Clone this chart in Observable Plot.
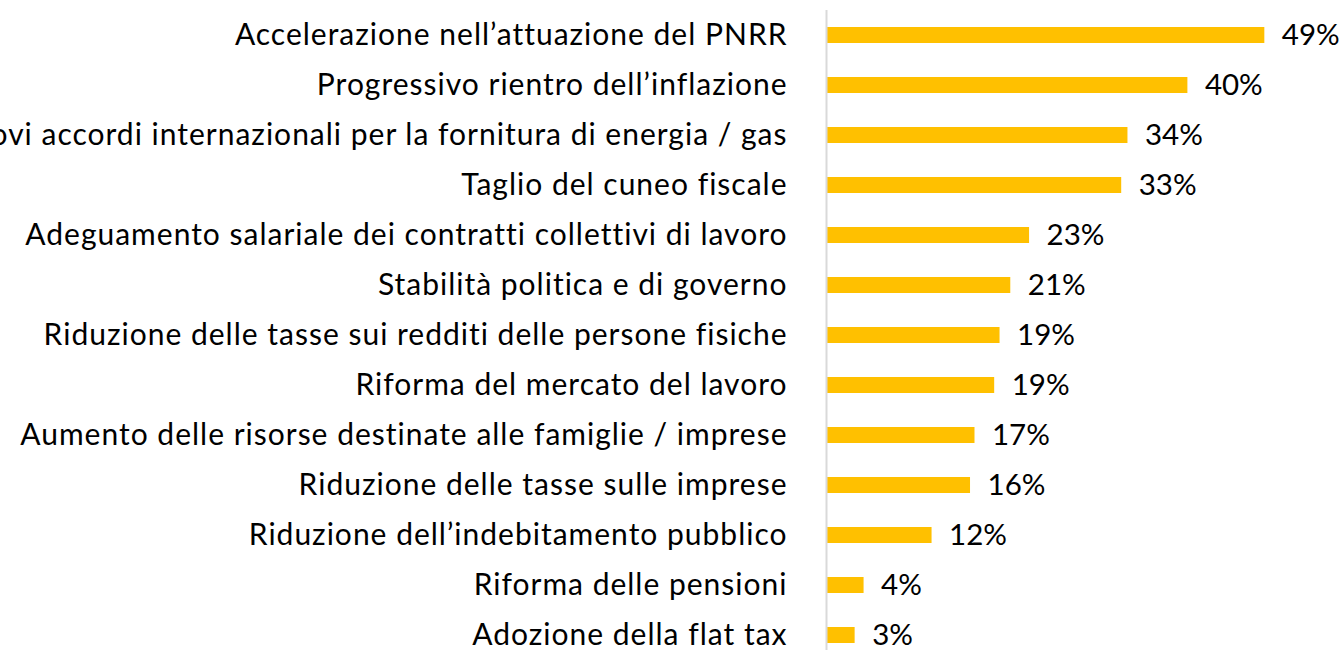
<!DOCTYPE html>
<html>
<head>
<meta charset="utf-8">
<script src="https://cdn.jsdelivr.net/npm/d3@7"></script>
<script src="https://cdn.jsdelivr.net/npm/@observablehq/plot@0.6"></script>
<style>
  html, body { margin: 0; padding: 0; background: #ffffff; overflow: hidden; }
  #chart svg { display: block; overflow: visible; }
  #chart g[aria-label="y-axis tick label"] text { letter-spacing: 1px; }
</style>
</head>
<body>
<div id="chart"></div>
<script>
const categories = [
  "Accelerazione nell’attuazione del PNRR",
  "Progressivo rientro dell’inflazione",
  "Nuovi accordi internazionali per la fornitura di energia / gas",
  "Taglio del cuneo fiscale",
  "Adeguamento salariale dei contratti collettivi di lavoro",
  "Stabilità politica e di governo",
  "Riduzione delle tasse sui redditi delle persone fisiche",
  "Riforma del mercato del lavoro",
  "Aumento delle risorse destinate alle famiglie / imprese",
  "Riduzione delle tasse sulle imprese",
  "Riduzione dell’indebitamento pubblico",
  "Riforma delle pensioni",
  "Adozione della flat tax"
];
const values = [49.0, 40.4, 33.7, 33.0, 22.7, 20.6, 19.4, 18.8, 16.6, 16.1, 11.8, 4.2, 3.2];
const valueLabels = ["49%", "40%", "34%", "33%", "23%", "21%", "19%", "19%", "17%", "16%", "12%", "4%", "3%"];

const data = categories.map((c, i) => ({category: c, value: values[i], label: valueLabels[i]}));

const font = "Lato, 'Open Sans', sans-serif";

const chart = Plot.plot({
  width: 1344,
  height: 650,
  marginLeft: 826,
  marginRight: 26,
  marginTop: 10,
  marginBottom: 0,
  style: {fontFamily: font, background: "#ffffff", color: "#000000"},
  x: {domain: [0, 55], axis: null},
  y: {domain: categories, range: [10, 660], paddingInner: 0.67, paddingOuter: 0.335, label: null},
  marks: [
    Plot.barX(data, {x: "value", y: "category", fill: "#FFC000", insetLeft: 1}),
    Plot.ruleX([0], {stroke: "#d9d9d9", strokeWidth: 2}),
    Plot.axisY({tickSize: 0, tickPadding: 39, fontSize: 30, fill: "#000000", label: null}),
    Plot.text(data, {x: "value", y: "category", text: "label", textAnchor: "start", dx: 17, fontSize: 29.5, fill: "#000000"})
  ]
});
document.getElementById("chart").appendChild(chart);
</script>
</body>
</html>
